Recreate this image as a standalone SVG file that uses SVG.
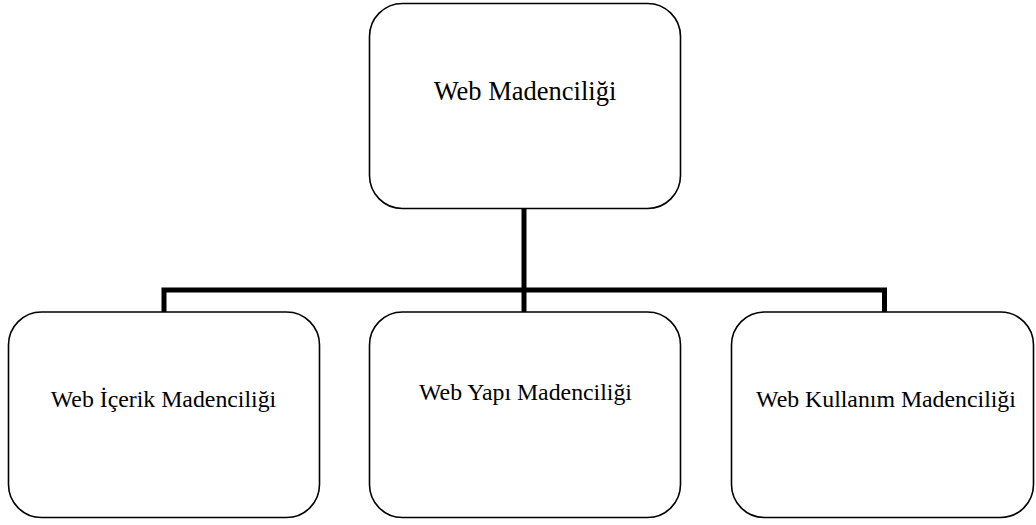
<svg xmlns="http://www.w3.org/2000/svg" width="1036" height="525" viewBox="0 0 1036 525">
<style>
.box{fill:#fff;stroke:#000;stroke-width:1.6}
.lbl{font-family:"Liberation Serif","Times New Roman",serif;fill:#000;text-anchor:middle}
.conn{fill:none;stroke:#000;stroke-width:5;stroke-linejoin:miter;stroke-linecap:butt}
</style>
<rect width="1036" height="525" fill="#fff"/>
<g id="connectors">
<path class="conn" d="M524,209 V312"/>
<path class="conn" d="M164,312 V290 H884.5 V312"/>
</g>
<g id="node-root">
<rect class="box" x="369.5" y="3.5" width="311" height="205" rx="33" ry="33"/>
<text class="lbl" x="525" y="100" font-size="26.5">Web Madenciliği</text>
</g>
<g id="node-icerik">
<rect class="box" x="8.5" y="312" width="311" height="205.5" rx="33" ry="33"/>
<text class="lbl" x="163.5" y="407" font-size="23.8">Web İçerik Madenciliği</text>
</g>
<g id="node-yapi">
<rect class="box" x="369.5" y="312" width="311" height="205.5" rx="33" ry="33"/>
<text class="lbl" x="525.5" y="400" font-size="23.8">Web Yapı Madenciliği</text>
</g>
<g id="node-kullanim">
<rect class="box" x="731.5" y="312" width="302" height="205.5" rx="33" ry="33"/>
<text class="lbl" x="886" y="407" font-size="23.8">Web Kullanım Madenciliği</text>
</g>
</svg>
